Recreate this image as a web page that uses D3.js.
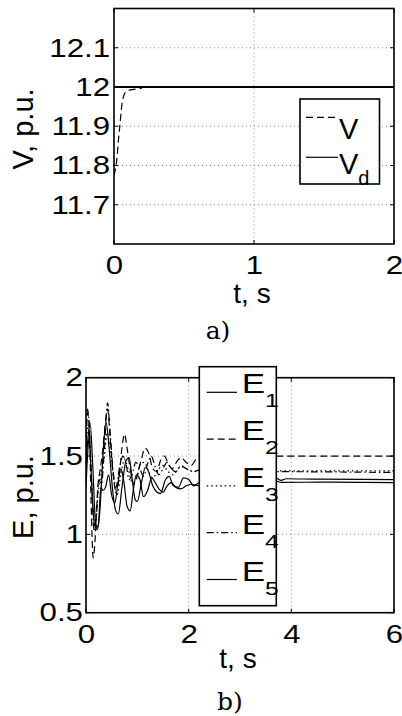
<!DOCTYPE html>
<html>
<head>
<meta charset="utf-8">
<script src="https://cdn.jsdelivr.net/npm/d3@7"></script>
<style>
  body { margin: 0; background: #fff; }
  text { font-family: "Liberation Sans", Arial, sans-serif; fill: #000; }
</style>
</head>
<body>
<svg id="chart" width="402" height="716"></svg>
<script>
// ---- panel a) : voltage
const vTime = [0, 0.01, 0.02, 0.03, 0.043, 0.057, 0.07, 0.086, 0.11, 0.14, 0.2];
const vValue = [11.775, 11.79, 11.815, 11.858, 11.906, 11.957, 11.978, 11.988, 11.992, 11.994, 11.997];
const vdTime = [0, 2];
const vdValue = [12, 12];
const topXTicks = [0, 1, 2];
const topYTicks = [11.7, 11.8, 11.9, 12, 12.1];

// ---- panel b) : emf of the five units, [t, E]
const e1 = [[0,1.45],[0.04,1.62],[0.08,1.71],[0.13,1.45],[0.18,1.1],[0.22,1.03],[0.27,1.15],[0.33,1.5],
  [0.39,1.72],[0.45,1.55],[0.52,1.28],[0.58,1.15],[0.63,1.13],[0.7,1.3],[0.78,1.47],[0.84,1.49],
  [0.9,1.35],[0.96,1.22],[1.0,1.21],[1.08,1.33],[1.16,1.43],[1.22,1.4],[1.3,1.31],[1.38,1.27],
  [1.45,1.26],[1.55,1.35],[1.62,1.37],[1.7,1.31],[1.8,1.3],[1.9,1.36],[2.0,1.35],[2.1,1.31],
  [2.2,1.33],[2.4,1.35],[3.0,1.36],[3.7,1.36],[3.8,1.345],[3.9,1.355],[4.5,1.352],[6,1.35]];
const e2 = [[0,1.55],[0.03,1.78],[0.06,1.72],[0.1,1.2],[0.14,0.85],[0.18,0.98],[0.23,1.3],[0.28,1.42],
  [0.33,1.55],[0.38,1.72],[0.42,1.8],[0.47,1.62],[0.53,1.38],[0.58,1.28],[0.64,1.35],[0.7,1.55],
  [0.75,1.64],[0.8,1.55],[0.87,1.4],[0.93,1.32],[1.0,1.38],[1.08,1.48],[1.15,1.55],[1.22,1.52],
  [1.3,1.42],[1.38,1.4],[1.45,1.47],[1.53,1.5],[1.6,1.45],[1.68,1.42],[1.76,1.46],[1.85,1.49],
  [1.95,1.46],[2.05,1.44],[2.15,1.48],[2.3,1.49],[3.0,1.5],[3.7,1.5],[6,1.5]];
const e3 = [[0,1.5],[0.04,1.7],[0.08,1.55],[0.13,1.2],[0.18,1.08],[0.23,1.25],[0.3,1.4],[0.36,1.5],
  [0.41,1.65],[0.47,1.55],[0.54,1.35],[0.6,1.25],[0.68,1.38],[0.75,1.48],[0.82,1.42],[0.9,1.33],
  [0.98,1.35],[1.06,1.45],[1.14,1.46],[1.22,1.4],[1.3,1.36],[1.4,1.41],[1.5,1.44],[1.6,1.4],
  [1.7,1.38],[1.8,1.42],[1.9,1.43],[2.0,1.41],[2.2,1.4],[3.0,1.405],[3.7,1.405],[6,1.405]];
const e4 = [[0,1.6],[0.03,1.8],[0.07,1.65],[0.12,1.25],[0.16,1.02],[0.2,1.1],[0.25,1.35],[0.3,1.32],
  [0.36,1.55],[0.42,1.84],[0.47,1.65],[0.53,1.4],[0.58,1.3],[0.65,1.42],[0.72,1.5],[0.78,1.45],
  [0.84,1.35],[0.9,1.38],[0.97,1.46],[1.05,1.42],[1.12,1.37],[1.2,1.45],[1.27,1.5],[1.35,1.43],
  [1.42,1.38],[1.5,1.42],[1.58,1.46],[1.66,1.42],[1.75,1.4],[1.85,1.44],[1.95,1.42],[2.1,1.4],
  [2.2,1.41],[3.0,1.4],[3.7,1.4],[6,1.395]];
const e5 = [[0,1.3],[0.03,1.5],[0.06,1.62],[0.1,1.4],[0.15,1.1],[0.19,1.04],[0.24,1.06],[0.29,1.3],
  [0.33,1.28],[0.38,1.3],[0.44,1.38],[0.5,1.25],[0.56,1.2],[0.62,1.32],[0.68,1.42],[0.74,1.33],
  [0.8,1.18],[0.86,1.15],[0.92,1.28],[0.98,1.38],[1.05,1.35],[1.12,1.24],[1.2,1.28],[1.28,1.36],
  [1.35,1.33],[1.42,1.29],[1.5,1.27],[1.58,1.31],[1.66,1.33],[1.75,1.3],[1.85,1.29],[1.95,1.31],
  [2.05,1.32],[2.2,1.31],[3.0,1.33],[3.7,1.34],[3.8,1.332],[4.5,1.333],[6,1.33]];
const botXTicks = [0, 2, 4, 6];
const botYTicks = [0.5, 1, 1.5, 2];

const DASH = "7,4", DOT = "1.5,3", DASHDOT = "7,3,1.5,3";
const SANS = '"Liberation Sans", Arial, sans-serif';

const svg = d3.select("#chart");
svg.append("rect").attr("width", 402).attr("height", 716).attr("fill", "#fff");

let clipId = 0;

// stretch a text horizontally around its own anchor point
function stretch(sel, sx) {
    sel.each(function() {
        const t = d3.select(this);
        const tx = +t.attr("x") || 0, ty = +t.attr("y") || 0;
        t.attr("x", 0).attr("y", 0).attr("transform", `translate(${tx},${ty}) scale(${sx},1)`);
    });
}

function drawPanel(p) {
    const g = svg.append("g");
    const x = d3.scaleLinear().domain(p.xDomain).range([p.left, p.right]);
    const y = d3.scaleLinear().domain(p.yDomain).range([p.bottom, p.top]);

    // dotted grid
    g.selectAll(".gx").data(p.xTicks).enter().append("line")
        .attr("x1", d => x(d)).attr("x2", d => x(d))
        .attr("y1", p.top).attr("y2", p.bottom)
        .attr("stroke", "#888").attr("stroke-width", 1).attr("stroke-dasharray", "1,3");
    g.selectAll(".gy").data(p.yTicks).enter().append("line")
        .attr("x1", p.left).attr("x2", p.right)
        .attr("y1", d => y(d)).attr("y2", d => y(d))
        .attr("stroke", "#888").attr("stroke-width", 1).attr("stroke-dasharray", "1,3");

    // series
    const id = "clip" + (clipId++);
    svg.append("clipPath").attr("id", id).append("rect")
        .attr("x", p.left).attr("y", p.top)
        .attr("width", p.right - p.left).attr("height", p.bottom - p.top);
    const line = d3.line().x(d => x(d[0])).y(d => y(d[1])).curve(d3.curveMonotoneX);
    const lines = g.append("g").attr("clip-path", `url(#${id})`);
    p.series.forEach(s => {
        lines.append("path").datum(s.data)
            .attr("d", line)
            .attr("fill", "none")
            .attr("stroke", "#000")
            .attr("stroke-width", s.width || 1.2)
            .attr("stroke-dasharray", s.dash || null);
    });

    // box and inner ticks
    g.append("rect")
        .attr("x", p.left).attr("y", p.top)
        .attr("width", p.right - p.left).attr("height", p.bottom - p.top)
        .attr("fill", "none").attr("stroke", "#000").attr("stroke-width", 1.6);
    const tl = 4;
    p.xTicks.forEach(d => {
        g.append("line").attr("x1", x(d)).attr("x2", x(d)).attr("y1", p.bottom).attr("y2", p.bottom - tl).attr("stroke", "#000");
        g.append("line").attr("x1", x(d)).attr("x2", x(d)).attr("y1", p.top).attr("y2", p.top + tl).attr("stroke", "#000");
    });
    p.yTicks.forEach(d => {
        g.append("line").attr("x1", p.left).attr("x2", p.left + tl).attr("y1", y(d)).attr("y2", y(d)).attr("stroke", "#000");
        g.append("line").attr("x1", p.right).attr("x2", p.right - tl).attr("y1", y(d)).attr("y2", y(d)).attr("stroke", "#000");
    });

    // tick labels
    const ax = g.append("g").attr("transform", `translate(0,${p.bottom})`)
        .call(d3.axisBottom(x).tickValues(p.xTicks).tickSize(0).tickPadding(p.xPad).tickFormat(d3.format("")));
    ax.select(".domain").remove();
    const ay = g.append("g").attr("transform", `translate(${p.left},0)`)
        .call(d3.axisLeft(y).tickValues(p.yTicks).tickSize(0).tickPadding(p.yPad).tickFormat(d3.format("")));
    ay.select(".domain").remove();
    const tickTexts = g.selectAll(".tick text")
        .style("font-family", SANS)
        .style("font-size", p.tickSize + "px").attr("fill", "#000");
    stretch(tickTexts, p.tickStretch);

    // axis titles
    g.append("text").attr("x", p.xLabelX).attr("y", p.xLabelY)
        .attr("text-anchor", "middle").style("font-size", "28px").text("t, s");
    g.append("text")
        .attr("transform", `translate(${p.yLabelX},${p.yLabelY}) rotate(-90)`)
        .attr("dy", "0.36em").attr("text-anchor", "middle").style("font-size", "29px")
        .text(p.yLabel);

    // caption
    g.append("text").attr("x", p.capX).attr("y", p.capY)
        .attr("text-anchor", "middle")
        .style("font-family", '"DejaVu Serif", serif')
        .style("font-size", "25px").text(p.caption);

    // legend
    const L = p.legend;
    const lg = g.append("g");
    lg.append("rect").attr("x", L.x).attr("y", L.y).attr("width", L.w).attr("height", L.h)
        .attr("fill", "#fff").attr("stroke", "#000").attr("stroke-width", 1.6);
    L.items.forEach((it, i) => {
        const ly = L.firstLine + i * L.step;
        lg.append("line").attr("x1", L.lineX0).attr("x2", L.lineX1)
            .attr("y1", ly).attr("y2", ly)
            .attr("stroke", "#000").attr("stroke-width", 1.2)
            .attr("stroke-dasharray", it.dash || null);
        const t = lg.append("text")
            .attr("transform", `translate(${L.textX},${ly + it.baseOff}) scale(${L.stretch},1)`)
            .style("font-size", L.font + "px");
        t.append("tspan").text(it.main);
        if (it.sub) t.append("tspan").attr("dy", L.subDy).style("font-size", L.subFont + "px").text(it.sub);
    });
}

drawPanel({
    left: 114, right: 394, top: 8.5, bottom: 244,
    xDomain: [0, 2], yDomain: [11.6, 12.2],
    xTicks: topXTicks, yTicks: topYTicks,
    xPad: 11.5, yPad: 4, tickSize: 26, tickStretch: 1.2,
    series: [
        { data: vTime.map((t, i) => [t, vValue[i]]), dash: DASH, width: 1.2 },
        { data: vdTime.map((t, i) => [t, vdValue[i]]), width: 2 }
    ],
    xLabelX: 252, xLabelY: 303,
    yLabel: "V, p.u.", yLabelX: 23, yLabelY: 129,
    caption: "a)", capX: 218, capY: 339,
    legend: {
        x: 300, y: 99, w: 79.5, h: 85,
        firstLine: 117.3, step: 40, lineX0: 306, lineX1: 338, textX: 339,
        font: 29, subFont: 20, subDy: 11, stretch: 1,
        items: [
            { main: "V", dash: DASH, baseOff: 21.5 },
            { main: "V", sub: "d", baseOff: 16.5 }
        ]
    }
});

drawPanel({
    left: 86, right: 394, top: 377.7, bottom: 612.7,
    xDomain: [0, 6], yDomain: [0.5, 2],
    xTicks: botXTicks, yTicks: botYTicks,
    xPad: 12.5, yPad: 3, tickSize: 25, tickStretch: 1.25,
    series: [
        { data: e1 },
        { data: e2, dash: DASH },
        { data: e3, dash: DOT },
        { data: e4, dash: DASHDOT },
        { data: e5 }
    ],
    xLabelX: 238, xLabelY: 668,
    yLabel: "E, p.u.", yLabelX: 22.5, yLabelY: 497,
    caption: "b)", capX: 230, capY: 710,
    legend: {
        x: 199.3, y: 366.7, w: 77, h: 239,
        firstLine: 392.3, step: 46.8, lineX0: 206.7, lineX1: 237, textX: 241.7,
        font: 27, subFont: 19, subDy: 14, stretch: 1.3,
        items: [
            { main: "E", sub: "1", baseOff: 1 },
            { main: "E", sub: "2", dash: DASH, baseOff: 1 },
            { main: "E", sub: "3", dash: DOT, baseOff: 1 },
            { main: "E", sub: "4", dash: DASHDOT, baseOff: 1 },
            { main: "E", sub: "5", baseOff: 1 }
        ]
    }
});
</script>
</body>
</html>
